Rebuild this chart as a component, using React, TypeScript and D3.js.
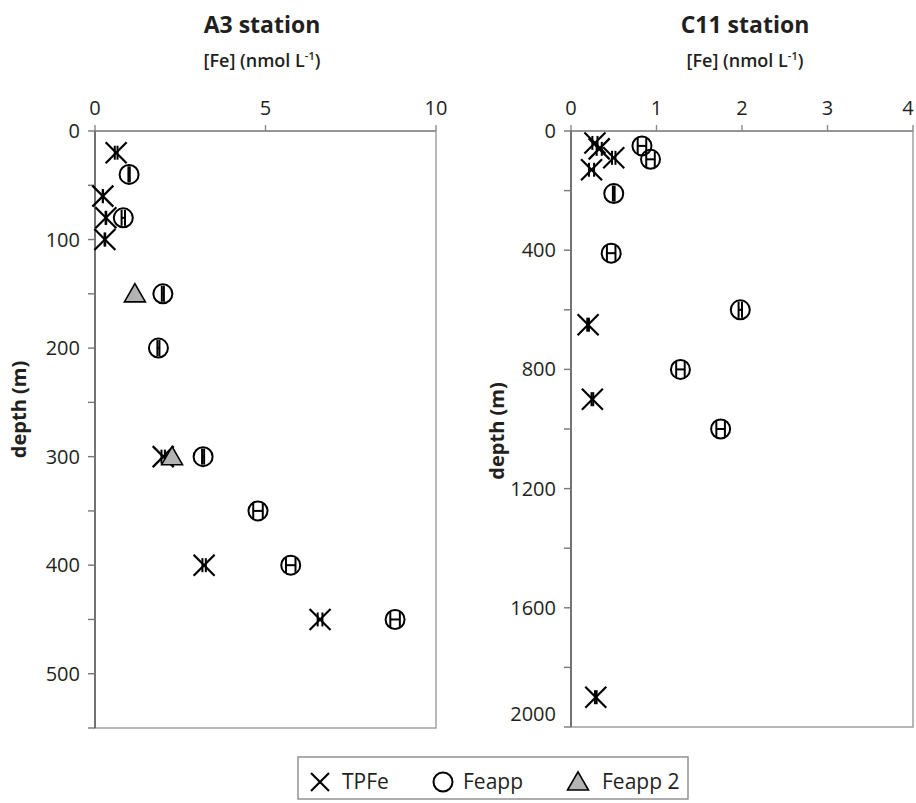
import React from 'react';
import * as d3 from 'd3';

const W = 916;
const H = 803;
const FONT = '"Open Sans", "Noto Sans", sans-serif';

// A3 station
const A3_TPFE_FE = [0.62, 0.23, 0.32, 0.29, 2.0, 3.2, 6.6];
const A3_TPFE_DEPTH = [20, 60, 80, 100, 300, 400, 450];
const A3_TPFE_ERR = [0.04, 0.0, 0.01, 0.01, 0.05, 0.05, 0.07];

const A3_FEAPP_FE = [1.0, 0.83, 1.99, 1.86, 3.17, 4.78, 5.74, 8.8];
const A3_FEAPP_DEPTH = [40, 80, 150, 200, 300, 350, 400, 450];
const A3_FEAPP_ERR = [0.02, 0.05, 0.03, 0.03, 0.03, 0.14, 0.14, 0.14];

const A3_FEAPP2_FE = [1.17, 2.26];
const A3_FEAPP2_DEPTH = [150, 300];

// C11 station
const C11_TPFE_FE = [0.28, 0.33, 0.5, 0.24, 0.2, 0.25, 0.29];
const C11_TPFE_DEPTH = [40, 60, 90, 130, 650, 900, 1900];
const C11_TPFE_ERR = [0.03, 0.03, 0.02, 0.03, 0.01, 0.01, 0.01];

const C11_FEAPP_FE = [0.83, 0.93, 0.5, 0.47, 1.98, 1.28, 1.75];
const C11_FEAPP_DEPTH = [50, 95, 210, 410, 600, 800, 1000];
const C11_FEAPP_ERR = [0.05, 0.05, 0.01, 0.05, 0.02, 0.05, 0.05];

// axes
const A3_X_TICKS = [0, 5, 10];
const A3_Y_LABELS = [0, 100, 200, 300, 400, 500];
const A3_Y_TICKS = [0, 50, 100, 150, 200, 250, 300, 350, 400, 450, 500, 550];
const C11_X_TICKS = [0, 1, 2, 3, 4];
const C11_Y_LABELS = [0, 400, 800, 1200, 1600, 2000];
const C11_Y_TICKS = [0, 200, 400, 600, 800, 1000, 1200, 1400, 1600, 1800, 2000];

const LEGEND = ['TPFe', 'Feapp', 'Feapp 2'];

type Pt = { fe: number; depth: number; err: number };
const zip = (fe: number[], depth: number[], err?: number[]): Pt[] =>
  fe.map((v, i) => ({ fe: v, depth: depth[i], err: err ? err[i] : 0 }));

function Cross({ x, y, s = 10.5 }: { x: number; y: number; s?: number }) {
  return (
    <g stroke="#000" strokeWidth={2.2}>
      <line x1={x - s} y1={y - s} x2={x + s} y2={y + s} />
      <line x1={x - s} y1={y + s} x2={x + s} y2={y - s} />
    </g>
  );
}

function Ring({ x, y }: { x: number; y: number }) {
  return <circle cx={x} cy={y} r={9.5} fill="none" stroke="#000" strokeWidth={2} />;
}

function Tri({ x, y }: { x: number; y: number }) {
  const path = d3.symbol().type(d3.symbolTriangle).size(190)();
  return <path d={path || ''} transform={`translate(${x},${y + 2})`} fill="#b3b3b3" stroke="#000" strokeWidth={1.6} />;
}

function ErrBar({ x0, x1, y, cap }: { x0: number; x1: number; y: number; cap: number }) {
  return (
    <g stroke="#000" strokeWidth={2}>
      <line x1={x0} x2={x1} y1={y} y2={y} />
      <line x1={x0} x2={x0} y1={y - cap} y2={y + cap} />
      <line x1={x1} x2={x1} y1={y - cap} y2={y + cap} />
    </g>
  );
}

type PanelProps = {
  left: number; right: number; top: number; bottom: number;
  xMax: number; yMax: number;
  xTicks: number[]; yTicks: number[]; yLabels: number[];
  tpfe: Pt[]; feapp: Pt[]; feapp2: Pt[];
  title: string; titleX: number; depthX: number; depthDy: number;
};

function Panel(p: PanelProps) {
  const x = d3.scaleLinear().domain([0, p.xMax]).range([p.left, p.right]);
  const y = d3.scaleLinear().domain([0, p.yMax]).range([p.top, p.bottom]);
  const cy = (p.top + p.bottom) / 2;
  return (
    <g fontFamily={FONT} fill="#231f20">
      <text x={p.titleX} y={33} textAnchor="middle" fontSize={23} fontWeight={700}>{p.title}</text>
      <text x={p.titleX} y={67} textAnchor="middle" fontSize={18} fontWeight={600}>
        [Fe] (nmol L<tspan dy={-7} fontSize={11}>-1</tspan><tspan dy={7}>)</tspan>
      </text>
      {/* plot frame */}
      <rect x={p.left} y={p.top} width={p.right - p.left} height={p.bottom - p.top} fill="none" stroke="#9a9a9a" strokeWidth={1.4} />
      {/* top x axis */}
      <line x1={p.left} x2={p.right} y1={p.top} y2={p.top} stroke="#8a8a8a" strokeWidth={1.4} />
      {p.xTicks.map(t => (
        <g key={'xt' + t}>
          <line x1={x(t)} x2={x(t)} y1={p.top - 6} y2={p.top} stroke="#8a8a8a" strokeWidth={1.4} />
          <text x={Math.min(x(t), W - 8)} y={p.top - 16} textAnchor="middle" fontSize={20}>{t}</text>
        </g>
      ))}
      {/* left y axis */}
      <line x1={p.left} x2={p.left} y1={p.top} y2={p.bottom} stroke="#555" strokeWidth={1.4} />
      {p.yTicks.map(t => (
        <line key={'yt' + t} x1={p.left - 7} x2={p.left} y1={y(t)} y2={y(t)} stroke="#777" strokeWidth={1.4} />
      ))}
      {p.yLabels.map((t, i) => (
        <text key={'yl' + t} x={p.left - 15} y={y(t) + (i === p.yLabels.length - 1 && t === p.yMax ? -6 : 7)}
          textAnchor="end" fontSize={20}>{t}</text>
      ))}
      <text transform={`translate(${p.depthX},${cy + p.depthDy}) rotate(-90)`} textAnchor="middle" fontSize={20} fontWeight={700}>depth (m)</text>
      {/* TPFe */}
      {p.tpfe.map((d, i) => (
        <g key={'tp' + i}>
          <Cross x={x(d.fe)} y={y(d.depth)} />
          <ErrBar x0={x(d.fe - d.err)} x1={x(d.fe + d.err)} y={y(d.depth)} cap={7} />
        </g>
      ))}
      {/* Feapp 2 */}
      {p.feapp2.map((d, i) => <Tri key={'f2' + i} x={x(d.fe)} y={y(d.depth)} />)}
      {/* Feapp */}
      {p.feapp.map((d, i) => (
        <g key={'fa' + i}>
          <Ring x={x(d.fe)} y={y(d.depth)} />
          <ErrBar x0={x(d.fe - d.err)} x1={x(d.fe + d.err)} y={y(d.depth)} cap={8} />
        </g>
      ))}
    </g>
  );
}

export default function App() {
  const ly = 782;
  return (
    <svg width={W} height={H} style={{ position: 'absolute', left: 0, top: 0, background: '#fff' }}>
      <rect width={W} height={H} fill="#fff" />
      <Panel left={95} right={436} top={131} bottom={728} xMax={10} yMax={550}
        xTicks={A3_X_TICKS} yTicks={A3_Y_TICKS} yLabels={A3_Y_LABELS}
        tpfe={zip(A3_TPFE_FE, A3_TPFE_DEPTH, A3_TPFE_ERR)}
        feapp={zip(A3_FEAPP_FE, A3_FEAPP_DEPTH, A3_FEAPP_ERR)}
        feapp2={zip(A3_FEAPP2_FE, A3_FEAPP2_DEPTH)}
        title="A3 station" titleX={262} depthX={26} depthDy={-20} />
      <Panel left={571} right={913} top={131} bottom={727} xMax={4} yMax={2000}
        xTicks={C11_X_TICKS} yTicks={C11_Y_TICKS} yLabels={C11_Y_LABELS}
        tpfe={zip(C11_TPFE_FE, C11_TPFE_DEPTH, C11_TPFE_ERR)}
        feapp={zip(C11_FEAPP_FE, C11_FEAPP_DEPTH, C11_FEAPP_ERR)}
        feapp2={[]}
        title="C11 station" titleX={745} depthX={504} depthDy={2} />
      {/* legend */}
      <g fontFamily={FONT} fill="#231f20">
        <rect x={298} y={757} width={390} height={42} fill="#fff" stroke="#8a8a8a" strokeWidth={1.4} />
        <Cross x={320} y={ly} s={9} />
        <text x={342} y={ly + 7} fontSize={21}>{LEGEND[0]}</text>
        <Ring x={443} y={ly} />
        <text x={463} y={ly + 7} fontSize={21}>{LEGEND[1]}</text>
        <Tri x={578} y={ly} />
        <text x={602} y={ly + 7} fontSize={21}>{LEGEND[2]}</text>
      </g>
    </svg>
  );
}
